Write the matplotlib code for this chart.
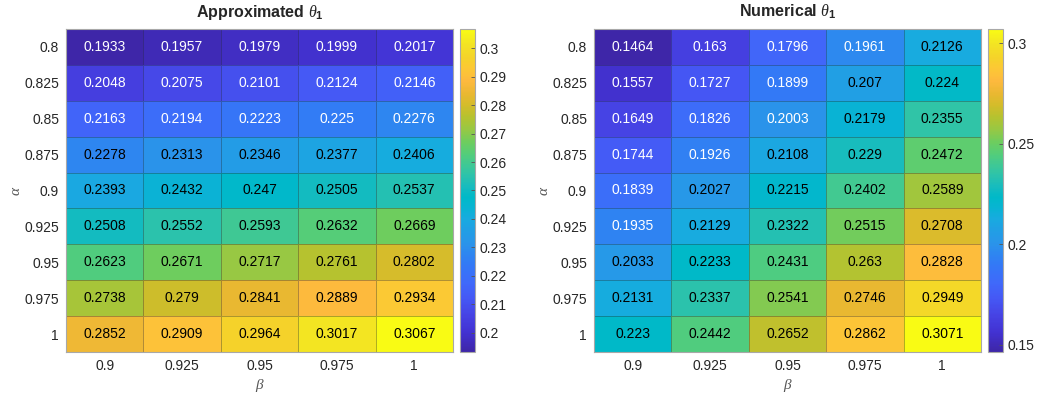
import numpy as np
import matplotlib
matplotlib.use("Agg")
import matplotlib.pyplot as plt
from matplotlib.colors import LinearSegmentedColormap

plt.rcParams['font.family'] = ['Liberation Sans', 'DejaVu Sans']
plt.rcParams['mathtext.fontset'] = 'custom'
plt.rcParams['mathtext.it'] = 'Liberation Serif:italic'
plt.rcParams['mathtext.rm'] = 'Liberation Sans'
plt.rcParams['mathtext.bf'] = 'Liberation Sans:bold'

alpha = [0.8, 0.825, 0.85, 0.875, 0.9, 0.925, 0.95, 0.975, 1]
beta = [0.9, 0.925, 0.95, 0.975, 1]

theta_approx = [
    [0.1933, 0.1957, 0.1979, 0.1999, 0.2017],
    [0.2048, 0.2075, 0.2101, 0.2124, 0.2146],
    [0.2163, 0.2194, 0.2223, 0.2250, 0.2276],
    [0.2278, 0.2313, 0.2346, 0.2377, 0.2406],
    [0.2393, 0.2432, 0.2470, 0.2505, 0.2537],
    [0.2508, 0.2552, 0.2593, 0.2632, 0.2669],
    [0.2623, 0.2671, 0.2717, 0.2761, 0.2802],
    [0.2738, 0.2790, 0.2841, 0.2889, 0.2934],
    [0.2852, 0.2909, 0.2964, 0.3017, 0.3067],
]

theta_num = [
    [0.1464, 0.1630, 0.1796, 0.1961, 0.2126],
    [0.1557, 0.1727, 0.1899, 0.2070, 0.2240],
    [0.1649, 0.1826, 0.2003, 0.2179, 0.2355],
    [0.1744, 0.1926, 0.2108, 0.2290, 0.2472],
    [0.1839, 0.2027, 0.2215, 0.2402, 0.2589],
    [0.1935, 0.2129, 0.2322, 0.2515, 0.2708],
    [0.2033, 0.2233, 0.2431, 0.2630, 0.2828],
    [0.2131, 0.2337, 0.2541, 0.2746, 0.2949],
    [0.2230, 0.2442, 0.2652, 0.2862, 0.3071],
]

cbar_ticks_approx = [0.2, 0.21, 0.22, 0.23, 0.24, 0.25, 0.26, 0.27, 0.28, 0.29, 0.3]
cbar_ticks_num = [0.15, 0.2, 0.25, 0.3]

# parula-style colormap
parula_pts = [
    (0.00, "#3e26a8"), (0.06, "#4232d2"), (0.11, "#4642e3"),
    (0.165, "#4558f5"), (0.21, "#4068fa"), (0.27, "#3379f6"),
    (0.31, "#2d89ef"), (0.335, "#2a94ea"), (0.38, "#20a0e4"),
    (0.41, "#19aae0"), (0.445, "#08b4d3"), (0.48, "#00b9c8"),
    (0.51, "#16bbbf"), (0.55, "#2ec3a9"), (0.585, "#42c991"),
    (0.615, "#55cd78"), (0.65, "#6dcd5f"), (0.69, "#98c843"),
    (0.73, "#b6c22f"), (0.765, "#d4bc2a"), (0.80, "#e9b831"),
    (0.84, "#fdb93e"), (0.86, "#fdc13a"), (0.88, "#fcc835"),
    (0.91, "#f5d22a"), (0.955, "#f3e423"), (1.00, "#f9fb14"),
]
parula = LinearSegmentedColormap.from_list("parula", parula_pts, N=256)

txt = (0.15, 0.15, 0.15)
fig = plt.figure(figsize=(10.37, 3.99), dpi=100)

W, H = 1037, 399
panels = [
    (theta_approx, r"Approximated $\mathit{\theta}_\mathbf{1}$", cbar_ticks_approx, 0.2277, 66, 460),
    (theta_num, r"Numerical $\mathit{\theta}_\mathbf{1}$", cbar_ticks_num, 0.2015, 594, 988),
]

for data, title, cticks, white_below, x0, cx0 in panels:
    z = np.array(data)
    ax = fig.add_axes([x0 / W, (H - 352) / H, 387 / W, 323 / H])
    cax = fig.add_axes([cx0 / W, (H - 352) / H, 15 / W, 323 / H])
    mesh = ax.pcolormesh(z, cmap=parula, vmin=z.min(), vmax=z.max(),
                         edgecolors=(0.15, 0.15, 0.2, 0.35), linewidth=0.5)
    ax.set_xlim(0, len(beta))
    ax.set_ylim(len(alpha), 0)
    for i in range(len(alpha)):
        for j in range(len(beta)):
            v = z[i, j]
            c = 'white' if v < white_below else 'black'
            ax.text(j + 0.5, i + 0.5, f"{v:.4g}", ha='center', va='center',
                    fontsize=10, color=c)
    ax.set_xticks(np.arange(len(beta)) + 0.5)
    ax.set_xticklabels([f"{b:g}" for b in beta])
    ax.set_yticks(np.arange(len(alpha)) + 0.5)
    ax.set_yticklabels([f"{a:g}" for a in alpha])
    ax.tick_params(length=0, labelsize=10, labelcolor=txt, pad=5)
    for s in ax.spines.values():
        s.set_color('#a8a8a8')
        s.set_linewidth(0.8)
    ax.set_xlabel(r"$\beta$", fontsize=11, color='#555555', labelpad=3)
    ax.set_ylabel(r"$\alpha$", fontsize=11, color='#555555', labelpad=1)
    ax.set_title(title, fontsize=11.5, fontweight='bold', color=txt, pad=9)

    cb = fig.colorbar(mesh, cax=cax)
    cb.set_ticks(cticks)
    cb.set_ticklabels([f"{t:g}" for t in cticks])
    cax.tick_params(direction='in', length=3, width=0.6, labelsize=10,
                    labelcolor=txt, color='#555555', pad=3)
    cb.outline.set_edgecolor('#a8a8a8')
    cb.outline.set_linewidth(0.8)

fig.savefig("out.png", dpi=100)
